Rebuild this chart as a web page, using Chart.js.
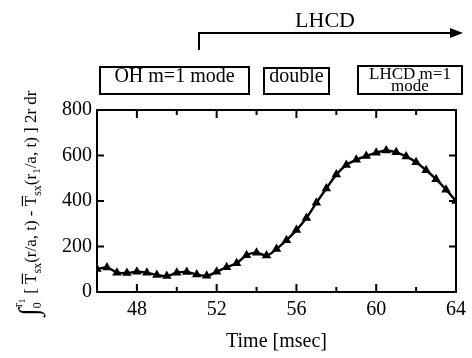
<!DOCTYPE html>
<html>
<head>
<meta charset="utf-8">
<script src="https://cdn.jsdelivr.net/npm/chart.js@4.4.1/dist/chart.umd.min.js"></script>
<style>
  html, body { margin: 0; padding: 0; background: #fff; }
  #wrap { width: 472px; height: 358px; }
</style>
</head>
<body>
<div id="wrap"><canvas id="chart" width="472" height="358"></canvas></div>
<script>
// time axis (msec), one marker every 0.5 msec
const times = [46, 46.5, 47, 47.5, 48, 48.5, 49, 49.5, 50, 50.5, 51, 51.5, 52, 52.5, 53, 53.5, 54, 54.5, 55,
               55.5, 56, 56.5, 57, 57.5, 58, 58.5, 59, 59.5, 60, 60.5, 61, 61.5, 62, 62.5, 63, 63.5, 64];
// integrated SX profile difference
const sxIntegral = [101, 108, 85, 84, 89, 85, 75, 70, 85, 88, 77, 71, 89, 109, 126, 162, 173, 160, 189,
                    228, 272, 325, 392, 455, 516, 558, 581, 598, 612, 622, 614, 596, 570, 535, 496, 450, 400];
const xLabelTicks = [48, 52, 56, 60, 64];
const phaseLabels = ['OH m=1 mode', 'double', 'LHCD m=1', 'mode'];
const FONT = '"Liberation Serif", "Times New Roman", serif';

const f = (size) => size + 'px ' + FONT;

// frame, inward ticks, phase boxes, LHCD arrow and y title
const decorPlugin = {
  id: 'decor',
  afterDraw(chart) {
    const ctx = chart.ctx;
    const { left, right, top, bottom } = chart.chartArea;
    const xs = chart.scales.x, ys = chart.scales.y;
    ctx.save();
    ctx.strokeStyle = '#000';
    ctx.fillStyle = '#000';
    ctx.lineWidth = 2;
    ctx.strokeRect(left, top, right - left, bottom - top);

    // ticks pointing into the plot
    ctx.beginPath();
    xs.ticks.forEach(t => {
      if (t.value <= xs.min || t.value >= xs.max) return;
      const px = xs.getPixelForValue(t.value);
      const len = xLabelTicks.includes(t.value) ? 8 : 5;
      ctx.moveTo(px, bottom); ctx.lineTo(px, bottom - len);
      ctx.moveTo(px, top); ctx.lineTo(px, top + len);
    });
    ys.ticks.forEach(t => {
      if (t.value <= ys.min || t.value >= ys.max) return;
      const py = ys.getPixelForValue(t.value);
      ctx.moveTo(left, py); ctx.lineTo(left + 7, py);
      ctx.moveTo(right, py); ctx.lineTo(right - 7, py);
    });
    ctx.stroke();

    // phase boxes
    ctx.textAlign = 'center';
    ctx.textBaseline = 'alphabetic';
    ctx.strokeRect(100, 67, 149, 27);
    ctx.strokeRect(264, 68, 65, 26);
    ctx.strokeRect(358, 66, 104, 28);
    ctx.font = f(20);
    ctx.fillText(phaseLabels[0], 174.5, 82);
    ctx.fillText(phaseLabels[1], 296.5, 82);
    ctx.font = f(17);
    ctx.fillText(phaseLabels[2], 410, 79);
    ctx.fillText(phaseLabels[3], 410, 91);

    // LHCD arrow
    ctx.beginPath();
    ctx.moveTo(199, 50); ctx.lineTo(199, 33); ctx.lineTo(452, 33);
    ctx.stroke();
    ctx.beginPath();
    ctx.moveTo(463, 33); ctx.lineTo(450, 28); ctx.lineTo(450, 38); ctx.closePath();
    ctx.fill();
    ctx.font = f(22);
    ctx.fillText('LHCD', 325, 27);

    // rotated y title
    ctx.translate(36, 316);
    ctx.rotate(-Math.PI / 2);
    ctx.textAlign = 'left';
    let x = 0;
    const put = (txt, size, dy) => { ctx.font = f(size); ctx.fillText(txt, x, dy); const w = ctx.measureText(txt).width; x += w; return w; };
    const tBar = (size) => {
      ctx.font = f(size);
      const w = ctx.measureText('T').width;
      ctx.fillText('T', x, 0);
      ctx.lineWidth = 1.2;
      ctx.beginPath(); ctx.moveTo(x, -size * 0.8); ctx.lineTo(x + w, -size * 0.8); ctx.stroke();
      x += w;
    };
    put('\u222B', 28, 2);
    const x0 = x;
    put('0', 12, 5);
    x = x0 + 1;
    put('r', 12, -14);
    put('1', 9, -11);
    x += 5;
    put('[ ', 17, 0);
    tBar(17);
    put('sx', 12, 5);
    put('(r/a, t) - ', 17, 0);
    tBar(17);
    put('sx', 12, 5);
    put('(r', 17, 0);
    put('1', 11, 4);
    put('/a, t) ] 2r dr', 17, 0);
    ctx.restore();
  }
};

new Chart(document.getElementById('chart'), {
  type: 'line',
  data: {
    datasets: [{
      data: times.map((t, i) => ({ x: t, y: sxIntegral[i] })),
      borderColor: '#000',
      backgroundColor: '#000',
      borderWidth: 2.4,
      pointStyle: 'triangle',
      pointRadius: 5.5,
      pointBorderWidth: 0,
      tension: 0.3
    }]
  },
  options: {
    responsive: false,
    animation: false,
    devicePixelRatio: 1,
    layout: { padding: { left: 0, right: 12, top: 110, bottom: 0 } },
    plugins: { legend: { display: false }, tooltip: { enabled: false } },
    scales: {
      x: {
        type: 'linear',
        min: 46,
        max: 64,
        grid: { display: false, drawTicks: false },
        border: { display: false },
        ticks: {
          stepSize: 2,
          autoSkip: false,
          maxRotation: 0,
          padding: 6,
          color: '#000',
          font: { family: FONT, size: 20 },
          callback: v => xLabelTicks.includes(v) ? String(v) : ''
        },
        title: {
          display: true,
          text: 'Time [msec]',
          color: '#000',
          font: { family: FONT, size: 20 },
          padding: { top: 0, bottom: 4 }
        },
        afterFit(s) { s.height = 66; }
      },
      y: {
        min: 0,
        max: 800,
        grid: { display: false, drawTicks: false },
        border: { display: false },
        ticks: {
          stepSize: 200,
          padding: 5,
          color: '#000',
          font: { family: FONT, size: 20 }
        },
        afterFit(s) { s.width = 97; }
      }
    }
  },
  plugins: [decorPlugin]
});
</script>
</body>
</html>
